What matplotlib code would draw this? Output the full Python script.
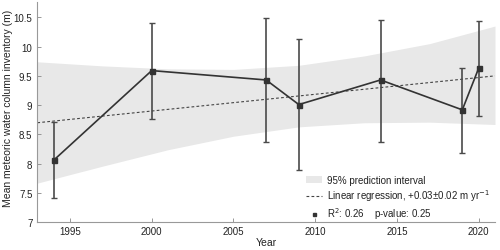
import numpy as np
import matplotlib
matplotlib.use('Agg')
import matplotlib.pyplot as plt

plt.rcParams['font.family'] = ['Liberation Sans', 'DejaVu Sans']

# データ
years = [1994, 2000, 2007, 2009, 2014, 2019, 2020]
inventory = [8.06, 9.59, 9.43, 9.01, 9.43, 8.92, 9.63]
err_low = [7.41, 8.76, 8.37, 7.89, 8.38, 8.19, 8.82]
err_high = [8.72, 10.41, 10.49, 10.13, 10.46, 9.64, 10.44]

# 回帰直線
reg_years = [1993, 2021]
reg_values = [8.70, 9.50]

# 95%予測区間
band_years = [1993, 1997, 2001, 2005, 2009, 2013, 2017, 2021]
band_upper = [9.74, 9.67, 9.62, 9.61, 9.68, 9.84, 10.05, 10.35]
band_lower = [7.67, 7.96, 8.24, 8.47, 8.63, 8.70, 8.71, 8.67]

inventory = np.array(inventory)
yerr = [inventory - np.array(err_low), np.array(err_high) - inventory]

fig = plt.figure(figsize=(5, 2.51), dpi=100)
ax = fig.add_axes([0.0746, 0.110, 0.9154, 0.878])

ax.fill_between(band_years, band_lower, band_upper, color='#e8e8e8', lw=0,
                label='95% prediction interval')
ax.plot(reg_years, reg_values, ls=(0, (2.5, 2)), color='#444444', lw=0.8,
        label='Linear regression, +0.03±0.02 m yr$^{-1}$')
ax.errorbar(years, inventory, yerr=yerr, fmt='none', ecolor='#4a4a4a',
            elinewidth=1.2, capsize=2.2, capthick=1.0)
ax.plot(years, inventory, color='#333333', lw=1.2)
ax.plot(years, inventory, ls='none', marker='s', ms=3.6, color='#333333',
        label='R$^2$: 0.26    p-value: 0.25')

ax.set_xlim(1993, 2021)
ax.set_ylim(7, 10.76)
ax.set_xticks([1995, 2000, 2005, 2010, 2015, 2020])
ax.set_yticks([7, 7.5, 8, 8.5, 9, 9.5, 10, 10.5])
ax.set_yticklabels(['7', '7.5', '8', '8.5', '9', '9.5', '10', '10.5'])

for s in ['top', 'right']:
    ax.spines[s].set_visible(False)
for s in ['left', 'bottom']:
    ax.spines[s].set_color('#999999')
    ax.spines[s].set_linewidth(0.8)
ax.tick_params(direction='in', length=3, width=0.6, color='#888888',
               labelsize=7, labelcolor='#222222')
ax.tick_params(axis='x', pad=2.5)

ax.set_xlabel('Year', fontsize=7.5, color='#222222', labelpad=1)
ax.set_ylabel('Mean meteoric water column inventory (m)', fontsize=7.5,
              color='#222222')
ax.yaxis.set_label_coords(-0.054, 0.52)

handles, labels = ax.get_legend_handles_labels()
ax.legend(handles, labels, loc='lower left', bbox_to_anchor=(0.572, -0.025),
          frameon=False, fontsize=7, handlelength=1.7, handletextpad=0.5,
          labelspacing=0.22, borderaxespad=0.3, labelcolor='#222222',
          markerscale=0.6)

plt.savefig('out.png', dpi=100)
